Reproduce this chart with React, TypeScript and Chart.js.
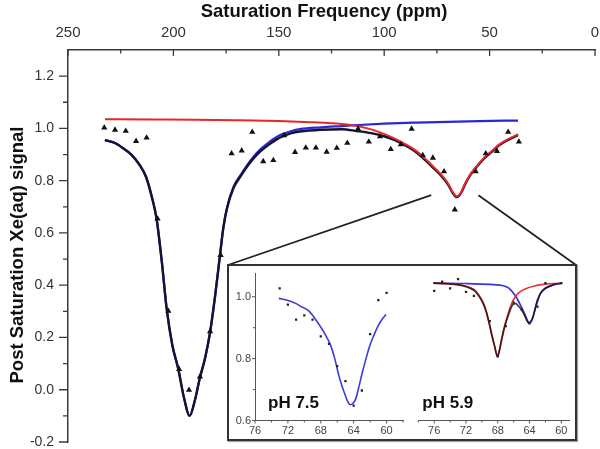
import React, { useEffect, useRef } from "react";
import { Chart, registerables } from "chart.js";

Chart.register(...registerables);

const FONT = "'Liberation Sans', Arial, Helvetica, sans-serif";

// ---------------- main chart ----------------
const xTickLabels = [250, 200, 150, 100, 50, 0];
const yTickLabels = [-0.2, 0.0, 0.2, 0.4, 0.6, 0.8, 1.0, 1.2];

const measuredPpm = [232.8, 227.7, 222.6, 217.7, 212.7, 207.5, 202.4, 197.3, 192.6, 187.4, 182.6, 177.6, 172.4, 167.6, 162.6, 157.4, 152.6, 147.5, 142.3, 137.2, 132.4, 127.3, 122.5, 117.5, 112.4, 107.3, 102.0, 96.9, 92.1, 87.0, 81.7, 76.9, 71.6, 66.5, 56.6, 51.8, 46.5, 41.2, 36.1];
const measuredSignal = [1.003, 0.994, 0.99, 0.951, 0.964, 0.654, 0.301, 0.079, -0.001, 0.05, 0.223, 0.515, 0.904, 0.915, 0.986, 0.874, 0.878, 0.973, 0.909, 0.926, 0.926, 0.91, 0.925, 0.944, 0.998, 0.949, 0.969, 0.92, 0.939, 0.998, 0.897, 0.887, 0.835, 0.689, 0.835, 0.904, 0.913, 0.986, 0.949];

const fitPpm = [232.5, 228, 224, 220, 216, 213, 210.3, 208, 205.5, 203.2, 200.5, 197.7, 195, 192.3, 189.8, 187.4, 185, 182.6, 180.2, 177.9, 176.3, 174.7, 171.5, 168, 165.2, 162, 159, 155, 151, 148, 144, 140, 130, 120, 113, 105, 100, 95, 90, 85, 80, 76, 72.9, 69.7, 67.5, 65.6, 63.5, 61.7, 59, 56.4, 52.1, 48, 45.7, 41, 36.5];
const fitSignal = [0.955, 0.945, 0.925, 0.9, 0.86, 0.815, 0.74, 0.655, 0.49, 0.31, 0.17, 0.08, -0.03, -0.1, -0.04, 0.047, 0.12, 0.22, 0.36, 0.515, 0.62, 0.69, 0.772, 0.818, 0.852, 0.885, 0.91, 0.936, 0.958, 0.97, 0.982, 0.988, 0.995, 0.997, 0.99, 0.98, 0.97, 0.955, 0.935, 0.91, 0.875, 0.843, 0.818, 0.785, 0.753, 0.737, 0.753, 0.785, 0.823, 0.85, 0.889, 0.917, 0.934, 0.957, 0.974];

const bluePpm = [232.5, 228, 224, 220, 216, 213, 210.3, 208, 205.5, 203.2, 200.5, 197.7, 195, 192.3, 189.8, 187.4, 185, 182.6, 180.2, 177.9, 176.3, 174.7, 171.5, 168, 165.2, 162, 159, 155, 151, 148, 144, 140, 130, 120, 112, 100, 85, 70, 55, 36.5];
const blueSignal = [0.955, 0.945, 0.925, 0.9, 0.86, 0.815, 0.74, 0.655, 0.49, 0.31, 0.17, 0.08, -0.03, -0.1, -0.04, 0.047, 0.12, 0.22, 0.36, 0.515, 0.621, 0.692, 0.776, 0.823, 0.858, 0.892, 0.918, 0.945, 0.967, 0.979, 0.99, 0.997, 1.004, 1.009, 1.013, 1.018, 1.022, 1.025, 1.028, 1.03];

const redPpm = [232.5, 210, 190, 170, 150, 135, 125, 115, 108, 102, 96, 90, 85, 80, 76, 72.9, 69.7, 67.5, 65.6, 63.5, 61.7, 59, 56.4, 52.1, 48, 45.7, 41, 36.5];
const redSignal = [1.035, 1.034, 1.033, 1.031, 1.028, 1.024, 1.02, 1.012, 1.0, 0.985, 0.965, 0.94, 0.915, 0.88, 0.848, 0.823, 0.789, 0.756, 0.74, 0.756, 0.788, 0.826, 0.853, 0.892, 0.92, 0.937, 0.96, 0.977];

// zoom connector start points (ppm, signal)
const connectorPpm = [77.7, 55.3];
const connectorSignal = [0.745, 0.744];

// ---------------- inset ----------------
const insetXTicks = [76, 72, 68, 64, 60];
const insetYTicks = [0.6, 0.8, 1.0];

const ph75Ppm = [73, 72, 71, 70, 69, 68, 67, 66, 65, 64, 63, 62, 61, 60];
const ph75Signal = [1.027, 0.975, 0.926, 0.94, 0.926, 0.872, 0.848, 0.776, 0.727, 0.648, 0.697, 0.879, 0.989, 1.013];
const ph75FitPpm = [73.1, 72, 71, 70.5, 69.5, 69, 68.5, 68, 67.5, 66.8, 66.3, 65.8, 65.4, 65, 64.7, 64.44, 64.1, 63.75, 63.4, 62.94, 62.5, 62.1, 61.6, 61.1, 60.6, 60.07];
const ph75FitSignal = [0.995, 0.988, 0.978, 0.97, 0.955, 0.94, 0.922, 0.902, 0.88, 0.843, 0.8, 0.745, 0.71, 0.68, 0.66, 0.651, 0.655, 0.67, 0.705, 0.756, 0.8, 0.837, 0.872, 0.902, 0.925, 0.943];

const ph59Ppm = [76, 75, 74, 73, 72, 71, 69, 68, 67, 66, 65, 64, 63, 62, 60];
const ph59Signal = [1.019, 1.049, 1.027, 1.057, 1.016, 1.003, 0.921, 0.807, 0.905, 0.981, 0.959, 0.914, 0.968, 1.044, 1.044];
const ph59FitPpm = [76.1, 74, 72.6, 71.5, 70.9, 70.4, 69.9, 69.5, 69.1, 68.7, 68.4, 68.05, 67.8, 67.6, 67.2, 66.7, 66.1, 65.7, 65.4, 65.0, 64.6, 64.3, 64.1, 63.85, 63.6, 63.3, 63.0, 62.6, 62.1, 61, 60];
const ph59FitSignal = [1.044, 1.042, 1.037, 1.028, 1.019, 1.003, 0.981, 0.955, 0.916, 0.87, 0.84, 0.807, 0.825, 0.851, 0.9, 0.938, 0.975, 0.978, 0.97, 0.958, 0.938, 0.922, 0.916, 0.918, 0.932, 0.96, 0.986, 1.012, 1.026, 1.04, 1.044];
const ph59RedPpm = [76.1, 74, 72.6, 71.5, 70.9, 70.4, 69.9, 69.5, 69.1, 68.7, 68.4, 68.05, 67.8, 67.6, 67.2, 66.7, 66.3, 65.8, 65.3, 64.5, 63.4, 62, 60];
const ph59RedSignal = [1.044, 1.042, 1.038, 1.03, 1.022, 1.007, 0.985, 0.958, 0.918, 0.872, 0.842, 0.808, 0.826, 0.852, 0.894, 0.945, 0.975, 1.0, 1.014, 1.026, 1.035, 1.041, 1.044];
const ph59BluePpm = [76.1, 72, 69, 67.2, 66.6, 66.1, 65.7, 65.3, 64.9, 64.6, 64.3, 64.1, 63.85, 63.6, 63.3, 63.0, 62.6, 62.1, 61, 60];
const ph59BlueSignal = [1.044, 1.043, 1.04, 1.035, 1.028, 1.014, 1.0, 0.981, 0.96, 0.943, 0.925, 0.916, 0.92, 0.932, 0.962, 0.99, 1.012, 1.026, 1.038, 1.044];

// layout of the inset box (page pixels)
const INSET = { left: 227, top: 264, width: 350, height: 177 };

const toXY = (xs: number[], ys: number[]) => xs.map((x, i) => ({ x, y: ys[i] }));

const lineDs = (data: any, color: string, width: number) => ({
  type: "line",
  data,
  borderColor: color,
  backgroundColor: color,
  borderWidth: width,
  pointRadius: 0,
  fill: false,
  cubicInterpolationMode: "monotone",
});

const mainDecor = {
  id: "mainDecor",
  afterDraw(chart: any) {
    const { ctx, chartArea: a, scales } = chart;
    const xs = scales.x;
    const ys = scales.y;
    ctx.save();
    ctx.strokeStyle = "#3a3a3a";
    ctx.lineWidth = 1.3;
    ctx.beginPath();
    for (let v = 0; v <= 250; v += 25) {
      const px = xs.getPixelForValue(v);
      const len = v % 50 === 0 ? 6 : 3.5;
      ctx.moveTo(px, a.top);
      ctx.lineTo(px, a.top + len);
    }
    for (let i = -2; i <= 12; i++) {
      const py = ys.getPixelForValue(i / 10);
      const len = i % 2 === 0 ? 9 : 5;
      ctx.moveTo(a.left - len, py);
      ctx.lineTo(a.left, py);
    }
    ctx.stroke();

    // zoom connectors
    ctx.strokeStyle = "#222";
    ctx.lineWidth = 1.8;
    ctx.beginPath();
    ctx.moveTo(xs.getPixelForValue(connectorPpm[0]), ys.getPixelForValue(connectorSignal[0]));
    ctx.lineTo(INSET.left + 1, INSET.top + 1);
    ctx.moveTo(xs.getPixelForValue(connectorPpm[1]), ys.getPixelForValue(connectorSignal[1]));
    ctx.lineTo(INSET.left + INSET.width - 1, INSET.top + 1);
    ctx.stroke();

    // axis titles
    ctx.fillStyle = "#111";
    ctx.font = `bold 18.5px ${FONT}`;
    ctx.textAlign = "center";
    ctx.textBaseline = "middle";
    ctx.fillText("Saturation Frequency (ppm)", 324, 12);
    ctx.translate(17.5, 255);
    ctx.rotate(-Math.PI / 2);
    ctx.fillText("Post Saturation Xe(aq) signal", 0, 0);
    ctx.restore();
  },
};

const insetDecor = (label: string, drawY: boolean) => ({
  id: "insetDecor",
  afterDraw(chart: any) {
    const { ctx, chartArea: a, scales } = chart;
    const xs = scales.x;
    const ys = scales.y;
    ctx.save();
    ctx.strokeStyle = "#555";
    ctx.lineWidth = 1;
    ctx.beginPath();
    for (let v = Math.ceil(xs.min); v <= xs.max; v++) {
      if (v % 2 !== 0) continue;
      const px = xs.getPixelForValue(v);
      const len = v % 4 === 0 ? 3 : 2;
      ctx.moveTo(px, a.bottom);
      ctx.lineTo(px, a.bottom + len);
    }
    if (drawY) {
      for (let i = 6; i <= 10; i++) {
        const py = ys.getPixelForValue(i / 10);
        const len = i % 2 === 0 ? 3 : 2;
        ctx.moveTo(a.left - len, py);
        ctx.lineTo(a.left, py);
      }
    }
    ctx.stroke();
    ctx.fillStyle = "#111";
    ctx.font = `bold 17px ${FONT}`;
    ctx.textAlign = "left";
    ctx.textBaseline = "alphabetic";
    ctx.fillText(label, a.left + (drawY ? 13 : 4), a.bottom - 12.5);
    ctx.restore();
  },
});

const insetScales = (xmin: number, xmax: number, showY: boolean) => ({
  x: {
    type: "linear",
    min: xmin,
    max: xmax,
    reverse: true,
    afterBuildTicks: (s: any) => {
      s.ticks = insetXTicks.map((v) => ({ value: v }));
    },
    afterFit: (s: any) => {
      s.height = 17.5;
      s.paddingLeft = 0;
      s.paddingRight = 0;
    },
    grid: { display: false, drawTicks: false },
    border: { display: true, color: "#555", width: 1 },
    ticks: { font: { family: FONT, size: 11 }, color: "#444", padding: 4, maxRotation: 0, autoSkip: false, callback: (v: any) => String(v) },
  },
  y: {
    type: "linear",
    display: showY,
    min: 0.6,
    max: 1.077,
    afterBuildTicks: (s: any) => {
      s.ticks = insetYTicks.map((v) => ({ value: v }));
    },
    afterFit: (s: any) => {
      s.width = showY ? 25 : 0;
      s.paddingTop = 0;
      s.paddingBottom = 0;
    },
    grid: { display: false, drawTicks: false },
    border: { display: true, color: "#555", width: 1 },
    ticks: { font: { family: FONT, size: 11 }, color: "#444", padding: 4, autoSkip: false, callback: (v: any) => Number(v).toFixed(1) },
  },
});

const baseOptions = {
  animation: false,
  responsive: false,
  events: [],
  plugins: { legend: { display: false }, tooltip: { enabled: false } },
};

export default function App() {
  const mainRef = useRef<HTMLCanvasElement>(null);
  const leftRef = useRef<HTMLCanvasElement>(null);
  const rightRef = useRef<HTMLCanvasElement>(null);

  useEffect(() => {
    const charts: any[] = [];

    charts.push(
      new Chart(mainRef.current as any, {
        type: "line",
        data: {
          datasets: [
            {
              type: "scatter",
              data: toXY(measuredPpm, measuredSignal),
              showLine: false,
              pointStyle: "triangle",
              pointRadius: 3.6,
              backgroundColor: "#111",
              borderColor: "#111",
              borderWidth: 0,
            } as any,
            lineDs(toXY(redPpm, redSignal), "#e8262a", 2),
            lineDs(toXY(fitPpm, fitSignal), "#141430", 2.4),
            lineDs(toXY(bluePpm, blueSignal), "#2828d8", 2.2),
          ],
        },
        options: {
          ...baseOptions,
          layout: { padding: { left: 0, right: 5, top: 0, bottom: 7 } },
          scales: {
            x: {
              type: "linear",
              position: "top",
              reverse: true,
              min: 0,
              max: 250,
              afterBuildTicks: (s: any) => {
                s.ticks = xTickLabels.map((v) => ({ value: v }));
              },
              afterFit: (s: any) => {
                s.height = 50;
                s.paddingLeft = 0;
                s.paddingRight = 0;
              },
              grid: { display: false, drawTicks: false },
              border: { display: true, color: "#3a3a3a", width: 1.5 },
              ticks: { font: { family: FONT, size: 15 }, color: "#333", padding: 8, maxRotation: 0, autoSkip: false, callback: (v: any) => String(v) },
            },
            y: {
              type: "linear",
              min: -0.2,
              max: 1.3,
              afterBuildTicks: (s: any) => {
                s.ticks = yTickLabels.map((v) => ({ value: v }));
              },
              afterFit: (s: any) => {
                s.width = 68;
                s.paddingTop = 0;
                s.paddingBottom = 0;
              },
              grid: { display: false, drawTicks: false },
              border: { display: true, color: "#3a3a3a", width: 1.5 },
              ticks: { font: { family: FONT, size: 14 }, color: "#333", padding: 14, autoSkip: false, callback: (v: any) => Number(v).toFixed(1) },
            },
          },
        } as any,
        plugins: [mainDecor],
      } as any)
    );

    charts.push(
      new Chart(leftRef.current as any, {
        type: "line",
        data: {
          datasets: [
            { type: "scatter", data: toXY(ph75Ppm, ph75Signal), showLine: false, pointStyle: "rect", pointRadius: 1.6, backgroundColor: "#222", borderWidth: 0 } as any,
            lineDs(toXY(ph75FitPpm, ph75FitSignal), "#3c3cdc", 1.6),
          ],
        },
        options: {
          ...baseOptions,
          layout: { padding: { left: 0, right: 5, top: 6, bottom: 0 } },
          scales: insetScales(58, 76, true),
        } as any,
        plugins: [insetDecor("pH 7.5", true)],
      } as any)
    );

    charts.push(
      new Chart(rightRef.current as any, {
        type: "line",
        data: {
          datasets: [
            { type: "scatter", data: toXY(ph59Ppm, ph59Signal), showLine: false, pointStyle: "rect", pointRadius: 1.6, backgroundColor: "#222", borderWidth: 0 } as any,
            lineDs(toXY(ph59FitPpm, ph59FitSignal), "rgba(25,10,10,0.78)", 1.7),
            lineDs(toXY(ph59RedPpm, ph59RedSignal), "#e83030", 1.6),
            lineDs(toXY(ph59BluePpm, ph59BlueSignal), "#3535e0", 1.7),
          ],
        },
        options: {
          ...baseOptions,
          layout: { padding: { left: 6.3, right: 4.7, top: 6, bottom: 0 } },
          scales: insetScales(59, 78, false),
        } as any,
        plugins: [insetDecor("pH 5.9", false)],
      } as any)
    );

    return () => charts.forEach((c) => c.destroy());
  }, []);

  return (
    <div style={{ position: "absolute", left: 0, top: 0, width: 600, height: 449, background: "#fff", overflow: "hidden" }}>
      <canvas ref={mainRef} width={600} height={449} style={{ position: "absolute", left: 0, top: 0 }} />
      <div
        style={{
          position: "absolute",
          left: INSET.left,
          top: INSET.top,
          width: INSET.width,
          height: INSET.height,
          boxSizing: "border-box",
          border: "2px solid #333",
          background: "#fff",
          boxShadow: "1px 1px 1px rgba(0,0,0,0.35)",
        }}
      />
      <canvas ref={leftRef} width={178} height={171} style={{ position: "absolute", left: 230, top: 267 }} />
      <canvas ref={rightRef} width={162} height={171} style={{ position: "absolute", left: 412, top: 267 }} />
    </div>
  );
}
